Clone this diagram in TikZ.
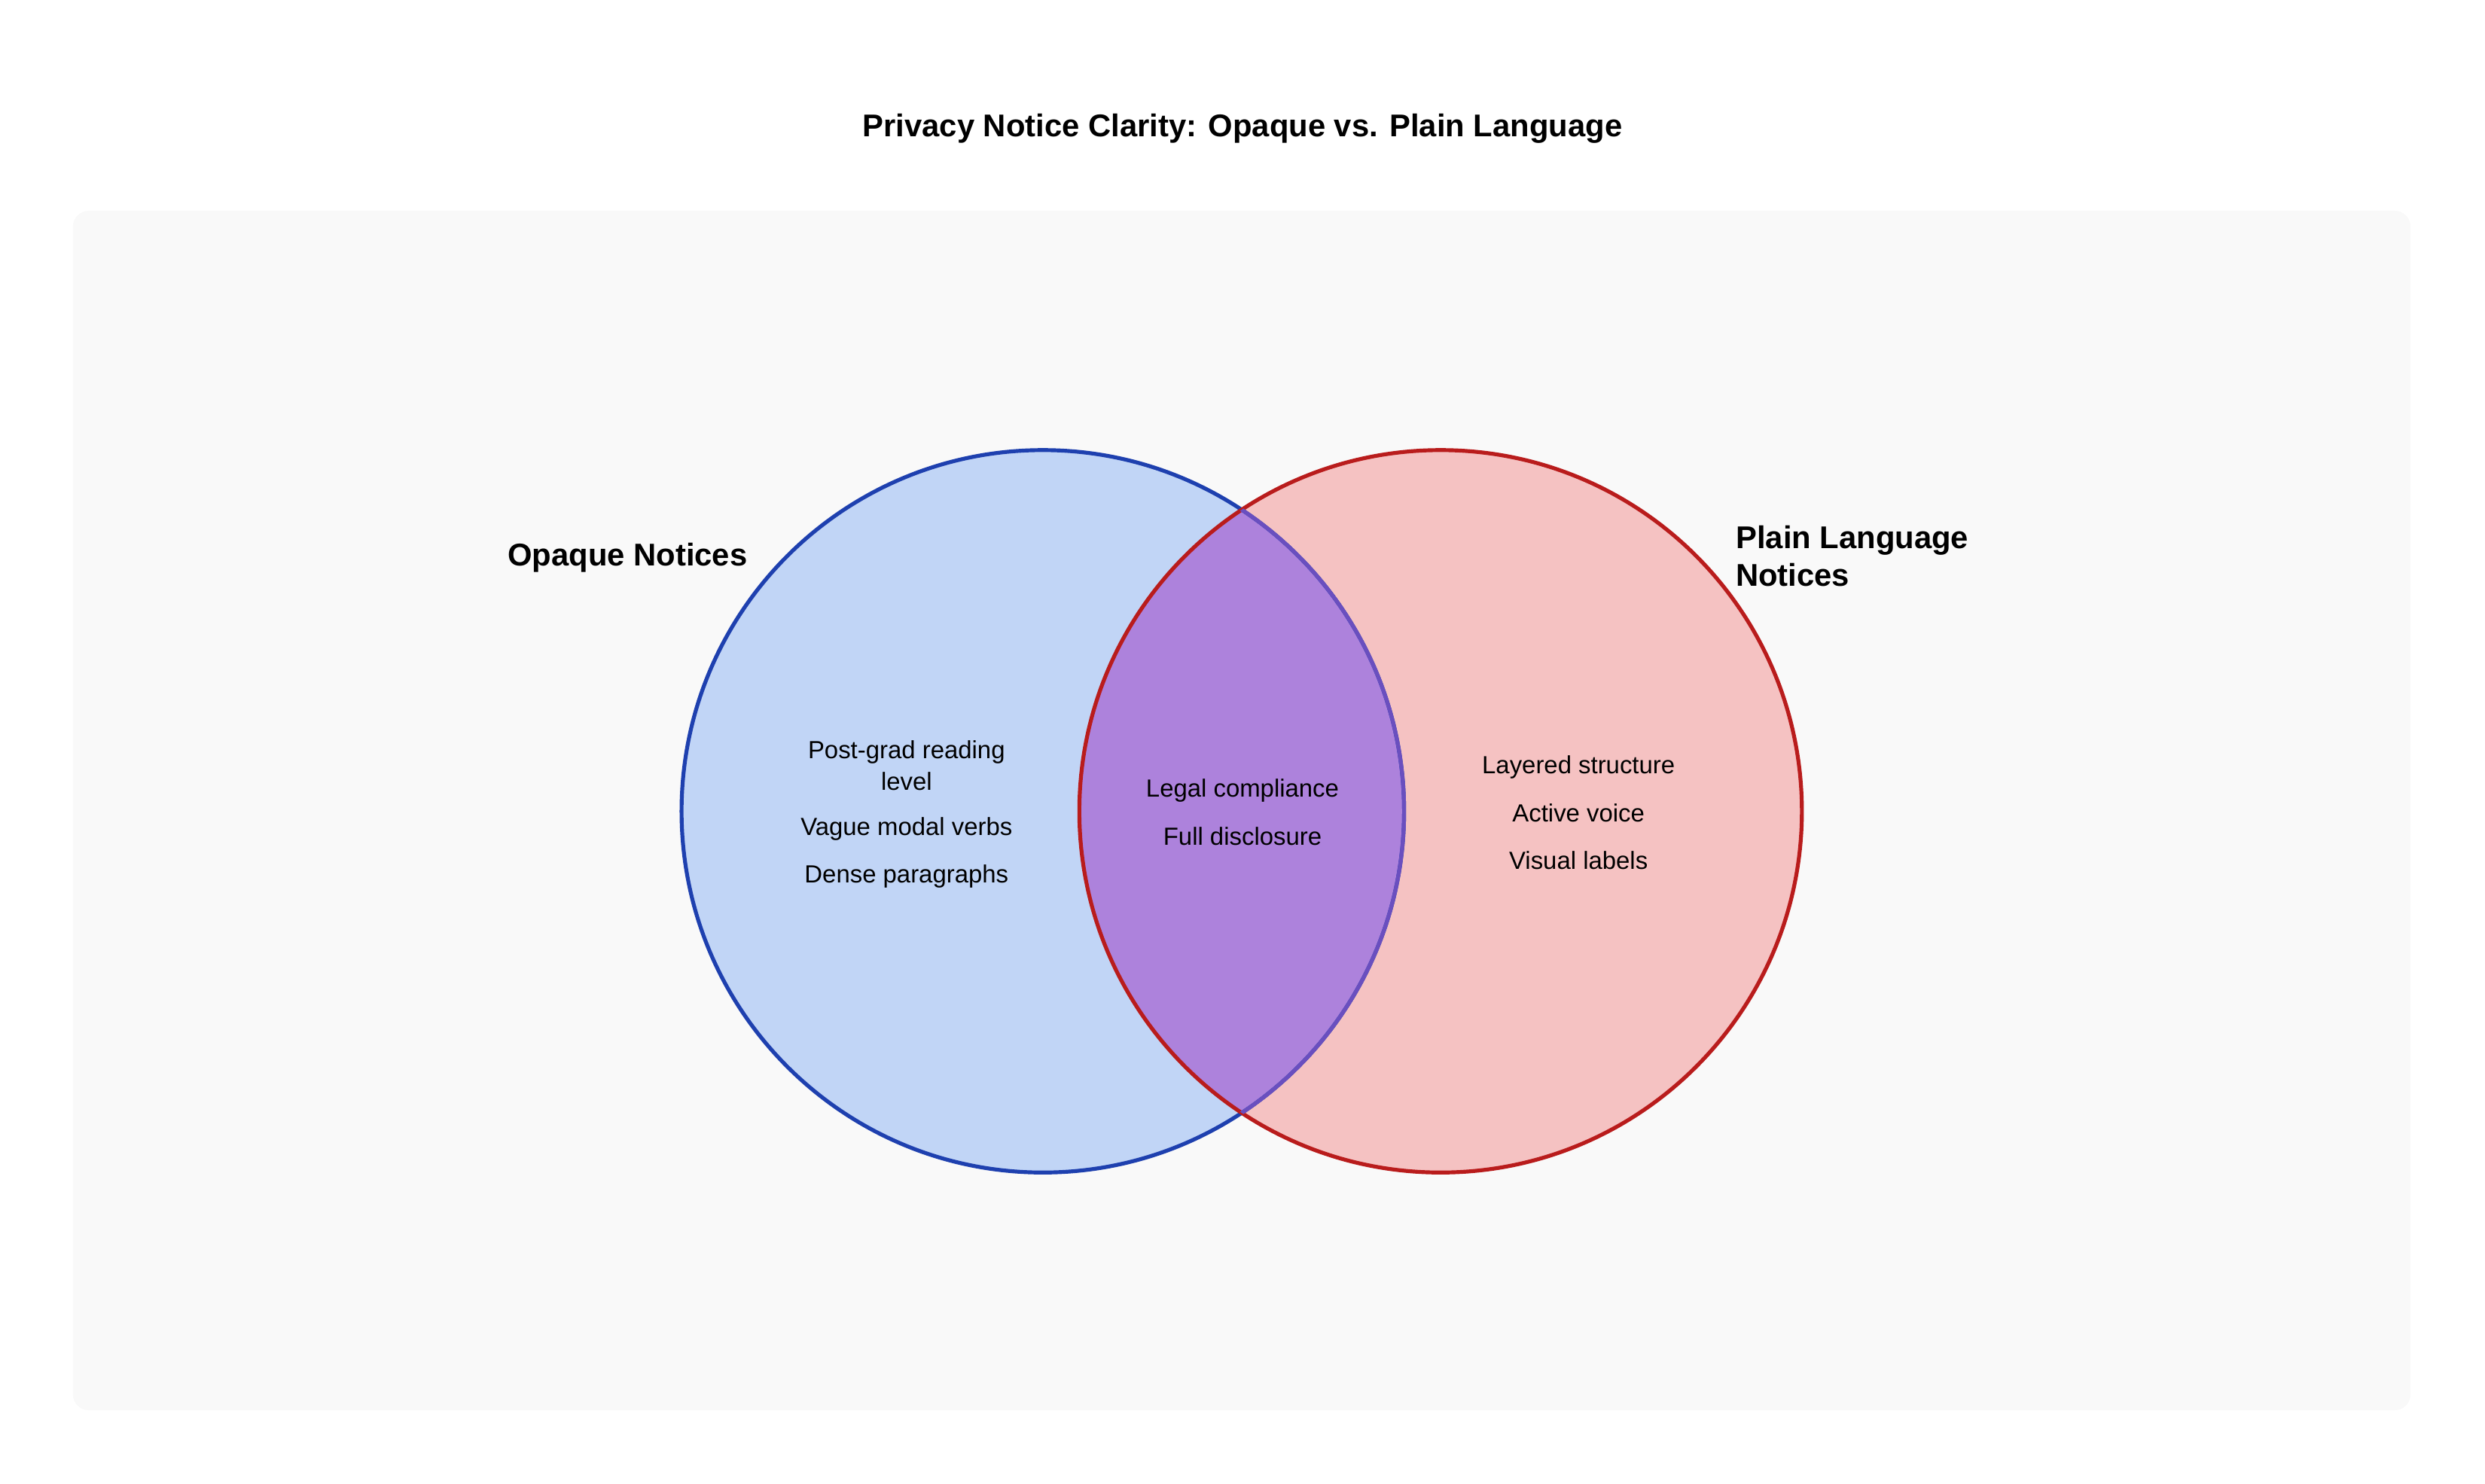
\documentclass[tikz,border=0pt]{standalone}
\usepackage{fontspec}
\setmainfont{Liberation Sans}
\definecolor{panelbg}{HTML}{F9F9F9}
\definecolor{opqfill}{HTML}{C1D5F6}
\definecolor{opqline}{HTML}{1E40AF}
\definecolor{plnfill}{HTML}{F5C2C2}
\definecolor{plnline}{HTML}{B91C1C}
\definecolor{lensfill}{HTML}{AD82DC}
\definecolor{lensline}{HTML}{6A4FBF}

\begin{document}
\begin{tikzpicture}[x=0.02cm,y=-0.02cm,line cap=round]
	\tikzstyle{head}=[font=\bfseries\fontsize{11.3}{13.7}\selectfont,inner sep=0pt];
	\tikzstyle{item}=[font=\fontsize{8.9}{11.4}\selectfont,align=center,inner sep=0pt];
	\tikzstyle{ring}=[line width=1.4pt];

	\useasboundingbox (0,0) rectangle (1568,936.5);
	\fill[panelbg,rounded corners=0.2cm] (46,133) rectangle (1521,890);

	% the two sets
	\coordinate (opq) at (658,512);
	\coordinate (pln) at (909,512);
	\fill[opqfill] (opq) circle[radius=4.56cm];
	\fill[plnfill] (pln) circle[radius=4.56cm];
	\begin{scope}
		\clip (opq) circle[radius=4.56cm];
		\fill[lensfill] (pln) circle[radius=4.56cm];
	\end{scope}
	\draw[ring,opqline] (opq) circle[radius=4.56cm];
	\draw[ring,plnline] (pln) circle[radius=4.56cm];
	\begin{scope}
		\clip (pln) circle[radius=4.56cm];
		\draw[ring,lensline] (opq) circle[radius=4.56cm];
	\end{scope}

	\node[head] (title) at (784,81) {Privacy Notice Clarity: Opaque vs. Plain Language};
	\node[head] (opqname) at (396,352) {Opaque Notices};
	\node[head,anchor=west,align=left] (plnname) at (1095,351) {Plain Language\\Notices};

	\node[item] (opq1) at (572,483) {Post-grad reading\\level};
	\node[item] (opq2) at (572,523) {Vague modal verbs};
	\node[item] (opq3) at (572,553) {Dense paragraphs};
	\node[item] (both1) at (784,499) {Legal compliance};
	\node[item] (both2) at (784,528) {Full disclosure};
	\node[item] (pln1) at (996,484) {Layered structure};
	\node[item] (pln2) at (996,513) {Active voice};
	\node[item] (pln3) at (996,543) {Visual labels};
\end{tikzpicture}
\end{document}
